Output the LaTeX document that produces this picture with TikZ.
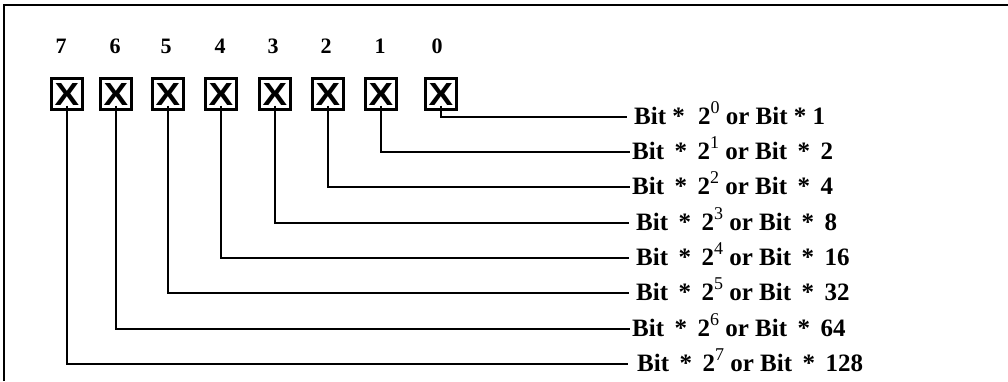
\documentclass[tikz,border=0pt]{standalone}
\usepackage{fontspec}
\setmainfont{Liberation Serif}
\newfontfamily\xfont{Liberation Sans}
\usetikzlibrary{calc}
\newcommand{\sups}[1]{\raisebox{0.42em}{\mdseries\fontsize{18}{18}\selectfont #1}}
\newcommand{\gp}{\hspace{0.42em}}
\begin{document}
\begin{tikzpicture}[x=1pt,y=-1pt,
  bitbox/.style={draw, line width=2.3pt, minimum width=31pt, minimum height=31pt, inner sep=0pt,
    font=\xfont\bfseries\fontsize{32}{32}\selectfont},
  bitnum/.style={inner sep=0pt, font=\bfseries\fontsize{22}{22}\selectfont},
  lbl/.style={anchor=base west, inner sep=0pt, font=\bfseries\fontsize{25}{25}\selectfont},
  wire/.style={line width=2.4pt},
  frame/.style={line width=2pt}]
\useasboundingbox (0,0) rectangle (1008,381);
\draw[frame] (4,381) -- (4,5) -- (1008,5);

% digits
\node[bitnum] (d7) at (61,46) {7};
\node[bitnum] (d6) at (115,46) {6};
\node[bitnum] (d5) at (166,46) {5};
\node[bitnum] (d4) at (220,46) {4};
\node[bitnum] (d3) at (273,46) {3};
\node[bitnum] (d2) at (326,46) {2};
\node[bitnum] (d1) at (380,46) {1};
\node[bitnum] (d0) at (437,46) {0};

% boxes
\node[bitbox] (b7) at (67,94) {\scalebox{1.15}[1]{X}};
\node[bitbox] (b6) at (116,94) {\scalebox{1.15}[1]{X}};
\node[bitbox] (b5) at (168,94) {\scalebox{1.15}[1]{X}};
\node[bitbox] (b4) at (221,94) {\scalebox{1.15}[1]{X}};
\node[bitbox] (b3) at (275,94) {\scalebox{1.15}[1]{X}};
\node[bitbox] (b2) at (328,94) {\scalebox{1.15}[1]{X}};
\node[bitbox] (b1) at (381,94) {\scalebox{1.15}[1]{X}};
\node[bitbox] (b0) at (441,94) {\scalebox{1.15}[1]{X}};

% labels
\node[lbl] (l0) at (634,124) {Bit * \;2\sups{0} or Bit * 1};
\node[lbl] (l1) at (632,159) {Bit\gp*\gp2\sups{1} or Bit\gp*\gp2};
\node[lbl] (l2) at (632,194) {Bit\gp*\gp2\sups{2} or Bit\gp*\gp4};
\node[lbl] (l3) at (636,230) {Bit\gp*\gp2\sups{3} or Bit\gp*\gp8};
\node[lbl] (l4) at (636,265) {Bit\gp*\gp2\sups{4} or Bit\gp*\gp16};
\node[lbl] (l5) at (636,300) {Bit\gp*\gp2\sups{5} or Bit\gp*\gp32};
\node[lbl] (l6) at (632,336) {Bit\gp*\gp2\sups{6} or Bit\gp*\gp64};
\node[lbl] (l7) at (637,371) {Bit\gp*\gp2\sups{7} or Bit\gp*\gp128};

% connectors
\foreach \i/\g in {0/7,1/2,2/2,3/7,4/7,5/7,6/2,7/9}{
  \draw[wire] ([yshift=5pt]b\i.south) |- ($(l\i.base west)+(-\g,-7)$);
}
\end{tikzpicture}
\end{document}
